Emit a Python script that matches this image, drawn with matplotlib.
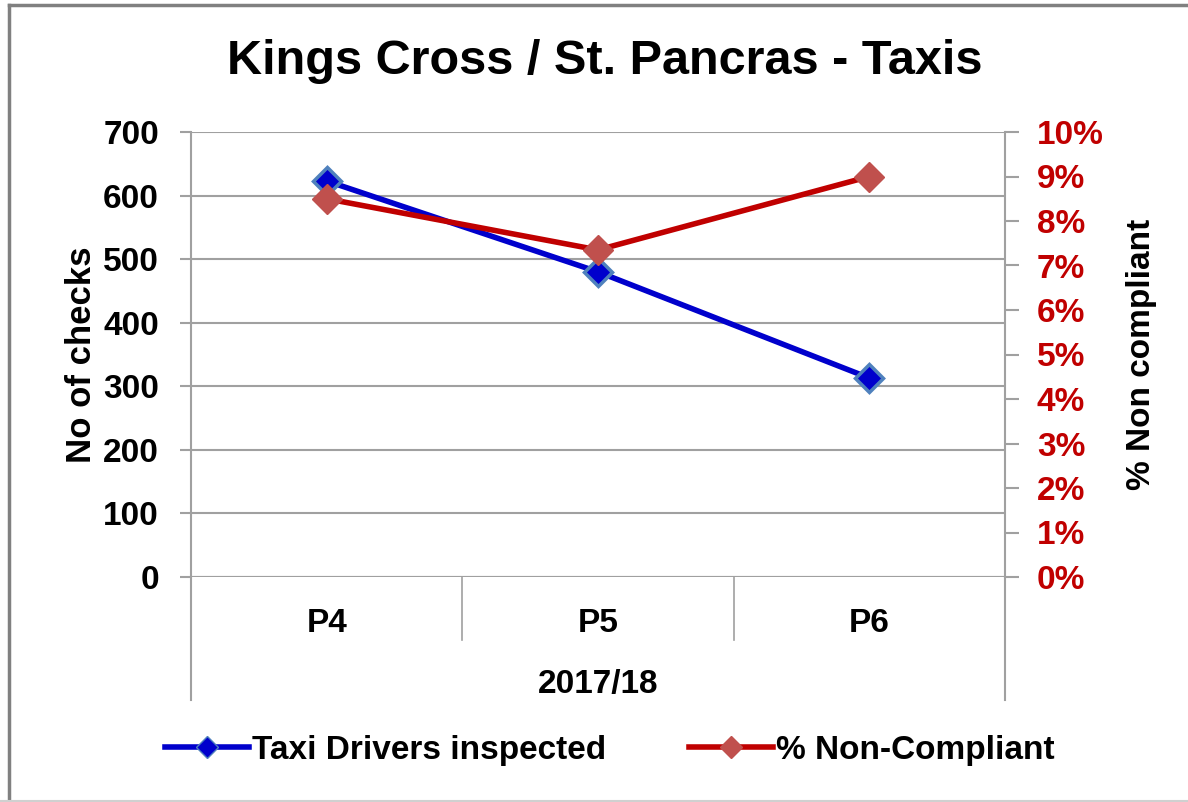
import matplotlib
matplotlib.use("Agg")
import matplotlib.pyplot as plt
from matplotlib.lines import Line2D
from matplotlib.ticker import FuncFormatter

plt.rcParams['font.family'] = ['Liberation Sans', 'DejaVu Sans']
plt.rcParams['font.weight'] = 'bold'
plt.rcParams['axes.labelweight'] = 'bold'

periods = ["P4", "P5", "P6"]
year_label = "2017/18"
drivers_inspected = [623, 480, 313]
pct_non_compliant = [0.085, 0.0735, 0.090]

blue = "#0000CC"
blue_edge = "#4F81BD"
red = "#C00000"
red_marker = "#C0504D"
grid_grey = "#A0A0A0"

W, H = 1188, 802
fig = plt.figure(figsize=(W / 100, H / 100), dpi=100)

# plot area in pixels
left, right, top, bottom = 191, 1005, 132, 577
ax = fig.add_axes([left / W, 1 - bottom / H, (right - left) / W, (bottom - top) / H])
ax2 = ax.twinx()

x = list(range(len(periods)))

ax.plot(x, drivers_inspected, color=blue, linewidth=4, marker="D", markersize=14,
        markerfacecolor=blue, markeredgecolor=blue_edge, markeredgewidth=2.5, zorder=5)
ax2.plot(x, pct_non_compliant, color=red, linewidth=4, marker="D", markersize=15,
         markerfacecolor=red_marker, markeredgecolor=red_marker, zorder=4)

ax.set_xlim(-0.5, len(periods) - 0.5)
ax.set_ylim(0, 700)
ax.set_yticks(range(0, 701, 100))
ax2.set_ylim(0, 0.10)
ax2.set_yticks([i / 100 for i in range(11)])
ax2.yaxis.set_major_formatter(FuncFormatter(lambda v, p: f"{v * 100:.0f}%"))

ax.grid(axis="y", color=grid_grey, linewidth=1.5)
ax.set_axisbelow(True)

for a in (ax, ax2):
    for s in a.spines.values():
        s.set_visible(False)
    a.spines["left"].set_visible(a is ax)
    a.spines["right"].set_visible(a is ax2)
    a.spines["left"].set_color(grid_grey)
    a.spines["right"].set_color(grid_grey)
    a.spines["left"].set_linewidth(1.5)
    a.spines["right"].set_linewidth(1.5)

ax.tick_params(axis="y", length=8, width=1.5, color=grid_grey, pad=15, labelsize=24)
ax2.tick_params(axis="y", length=10, width=1.5, color=grid_grey, pad=13, labelsize=24,
                labelcolor=red)
ax.set_xticks(x)
ax.set_xticklabels(periods, fontsize=24)
ax.tick_params(axis="x", length=0, pad=22)

# category dividers and outer box of the axis
xt = ax.get_xaxis_transform()
for xd in [0.5 + i for i in range(len(periods) - 1)]:
    ax.plot([xd, xd], [0, -63 / 445], color=grid_grey, lw=1.2, transform=xt, clip_on=False)
for xd in (-0.5, len(periods) - 0.5):
    ax.plot([xd, xd], [0, -123 / 445], color=grid_grey, lw=1.5, transform=xt, clip_on=False)
ax.axhline(0, color=grid_grey, lw=1.5)

ax.text(0.5, -108 / 445, year_label, transform=ax.transAxes, ha="center", va="center",
        fontsize=24)

ax.set_ylabel("No of checks", fontsize=25, labelpad=4)
ax2.set_ylabel("% Non compliant", fontsize=24, labelpad=16)

fig.text(605 / W, 1 - 62 / H, "Kings Cross / St. Pancras - Taxis", ha="center", va="center",
         fontsize=35)

handles = [
    Line2D([], [], color=blue, lw=4, marker="D", markersize=11, markerfacecolor=blue,
           markeredgecolor=blue_edge),
    Line2D([], [], color=red, lw=4, marker="D", markersize=11, markerfacecolor=red_marker,
           markeredgecolor=red_marker),
]
fig.legend(handles, ["Taxi Drivers inspected", "% Non-Compliant"], loc="center",
           bbox_to_anchor=(610 / W, 1 - 750 / H), ncol=2, frameon=False, fontsize=24,
           handlelength=2.5, handletextpad=0.1, columnspacing=2.5)

# chart frame
fig.add_artist(Line2D([9 / W, 9 / W], [1 - 5 / H, 0], transform=fig.transFigure,
                      color="#808080", lw=2.5))
fig.add_artist(Line2D([9 / W, 1], [1 - 5 / H, 1 - 5 / H], transform=fig.transFigure,
                      color="#808080", lw=2.5))
fig.add_artist(Line2D([0, 1], [1 / H, 1 / H], transform=fig.transFigure,
                      color="#D0D0D0", lw=1.5))

fig.savefig("out.png", dpi=100)
